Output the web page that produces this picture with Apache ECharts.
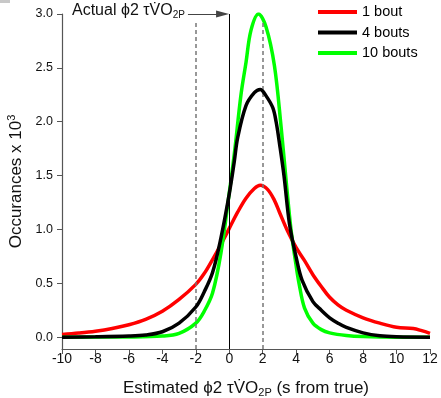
<!DOCTYPE html>
<html>
<head>
<meta charset="utf-8">
<script src="https://cdn.jsdelivr.net/npm/echarts@6/dist/echarts.min.js"></script>
<style>
  html, body { margin: 0; padding: 0; background: #fff; }
  #chart { width: 441px; height: 398px; }
</style>
</head>
<body>
<div id="chart"></div>
<script>
// values (x = seconds from true, y = occurances x 10^3)
const redX = [-10, -9, -8, -7, -6, -5, -4, -3, -2, -1.5, -1, -0.5, 0, 0.5, 1, 1.5, 1.85, 2.3, 2.7, 3, 3.5, 4, 4.5, 5, 5.5, 6, 6.5, 7, 8, 9, 10, 11, 11.5, 12];
const redY = [0.025, 0.038, 0.055, 0.08, 0.115, 0.165, 0.24, 0.35, 0.49, 0.59, 0.72, 0.86, 1.01, 1.16, 1.29, 1.38, 1.41, 1.37, 1.27, 1.16, 0.98, 0.83, 0.71, 0.58, 0.47, 0.37, 0.3, 0.25, 0.18, 0.13, 0.092, 0.08, 0.06, 0.035];

const blackX = [-10, -8, -6, -5, -4, -3, -2, -1.5, -1, -0.5, 0, 0.3, 0.5, 1, 1.5, 1.85, 2.2, 2.6, 2.8, 3, 3.27, 3.6, 4, 4.35, 5, 5.5, 6, 6.5, 7, 8, 9, 10, 12];
const blackY = [0, 0.003, 0.01, 0.02, 0.05, 0.13, 0.28, 0.42, 0.6, 0.92, 1.33, 1.63, 1.85, 2.15, 2.27, 2.3, 2.24, 2.13, 2.0, 1.8, 1.5, 1.05, 0.74, 0.53, 0.33, 0.25, 0.18, 0.13, 0.09, 0.04, 0.012, 0.003, 0];

const greenX = [-10, -6, -4, -3, -2, -1.5, -1, -0.5, 0, 0.3, 0.7, 1, 1.3, 1.75, 2.2, 2.7, 3.1, 3.4, 3.69, 4.0, 4.17, 4.5, 5, 5.5, 6, 7, 8, 10, 12];
const greenY = [0, 0.002, 0.01, 0.035, 0.13, 0.24, 0.41, 0.78, 1.34, 1.7, 2.25, 2.55, 2.85, 3.0, 2.88, 2.52, 1.95, 1.45, 1.0, 0.66, 0.5, 0.27, 0.13, 0.07, 0.04, 0.015, 0.005, 0, 0];

const seriesNames = ['1 bout', '4 bouts', '10 bouts'];
const yTicks = [0, 0.5, 1, 1.5, 2, 2.5, 3];
const guideX = [-2, 2];

const pairs = (xs, ys) => xs.map((x, i) => [x, ys[i]]);

const chart = echarts.init(document.getElementById('chart'), null, { renderer: 'canvas' });

const FONT = 'Liberation Sans, Arial, sans-serif';
const axisGrey = '#555';

const lineSeries = (name, xs, ys, color, z) => ({
    name,
    type: 'line',
    smooth: 0.35,
    showSymbol: false,
    color,
    z,
    lineStyle: { width: 3.5, color },
    data: pairs(xs, ys),
});

const red = lineSeries(seriesNames[0], redX, redY, '#ff0000', 3);
// reference lines: actual value (solid), +/-2 s (dashed), arrow pointing at the actual
red.markLine = {
    silent: true,
    animation: false,
    symbol: ['none', 'none'],
    label: { show: false },
    data: [
        [
            { coord: [0, -0.11], lineStyle: { type: 'solid', color: '#000', width: 1 } },
            { coord: [0, 3.0] },
        ],
        ...guideX.map((g) => [
            { coord: [g, -0.11], lineStyle: { type: [4, 3], color: '#777', width: 1.5 } },
            { coord: [g, 2.92] },
        ]),
        [
            { coord: [-2.47, 3.0], symbol: 'none', lineStyle: { type: 'solid', color: '#444', width: 1.2 } },
            { coord: [-0.4, 3.0], symbol: 'triangle', symbolSize: [7, 13] },
        ],
    ],
};

chart.setOption({
    animation: false,
    textStyle: { fontFamily: FONT },
    grid: { left: 62, right: 11, top: 14, bottom: 49, containLabel: false, outerBoundsMode: 'none' },
    legend: {
        data: seriesNames,
        orient: 'vertical',
        left: 318,
        top: 4,
        padding: 0,
        icon: 'rect',
        itemWidth: 39,
        itemHeight: 4,
        itemGap: 4.5,
        textStyle: { fontSize: 14.5, color: '#000', lineHeight: 16, fontFamily: FONT },
    },
    xAxis: {
        type: 'value',
        min: -10,
        max: 12,
        interval: 2,
        axisLine: { show: true, onZero: false, lineStyle: { color: axisGrey, width: 1.2 } },
        axisTick: { show: true, length: 5, lineStyle: { color: axisGrey } },
        axisLabel: { color: '#111', fontSize: 14, margin: 3, fontFamily: FONT },
        splitLine: { show: false },
        name: '{a|Estimated ϕ2 τV\u0307O}{s|2P}{a| (s from true)}',
        nameLocation: 'middle',
        nameGap: 29,
        nameTextStyle: {
            rich: {
                a: { fontSize: 17, color: '#111', fontFamily: FONT },
                s: { fontSize: 11, color: '#111', fontFamily: FONT, padding: [9, 0, 0, 0] },
            },
        },
    },
    yAxis: {
        type: 'value',
        min: -0.11,
        max: 3.0,
        axisLine: { show: true, onZero: false, lineStyle: { color: axisGrey, width: 1.2 } },
        axisTick: { show: true, length: 5, customValues: yTicks, lineStyle: { color: axisGrey } },
        axisLabel: {
            color: '#111',
            fontSize: 12.5,
            margin: 9,
            fontFamily: FONT,
            customValues: yTicks,
            formatter: (v) => v.toFixed(1),
        },
        splitLine: { show: false },
        name: '{a|Occurances x 10}{p|3}',
        nameLocation: 'middle',
        nameGap: 31,
        nameTextStyle: {
            rich: {
                a: { fontSize: 17, color: '#111', fontFamily: FONT },
                p: { fontSize: 11, color: '#111', fontFamily: FONT, padding: [0, 0, 9, 0] },
            },
        },
    },
    graphic: [
        { type: 'rect', left: 0, top: 0, shape: { width: 10, height: 3 }, style: { fill: '#c8c8c8' } },
        {
            type: 'text',
            left: 72,
            top: 3,
            style: {
                text: '{a|Actual ϕ2 τV\u0307O}{s|2P}',
                rich: {
                    a: { fontSize: 16, fill: '#111', fontFamily: FONT },
                    s: { fontSize: 10, fill: '#111', fontFamily: FONT, padding: [8, 0, 0, 0] },
                },
            },
        },
    ],
    series: [
        red,
        lineSeries(seriesNames[2], greenX, greenY, '#00ff00', 4),
        lineSeries(seriesNames[1], blackX, blackY, '#000000', 5),
    ],
});
</script>
</body>
</html>
